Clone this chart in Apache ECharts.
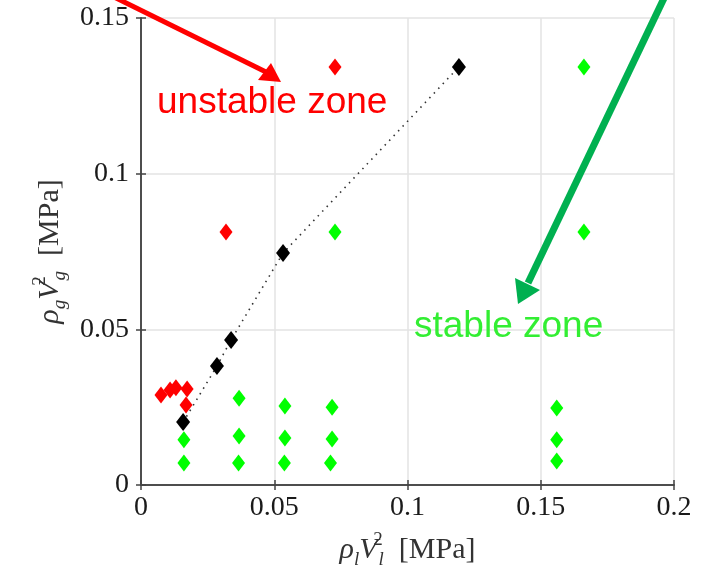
<!DOCTYPE html>
<html><head><meta charset="utf-8">
<script src="https://cdn.jsdelivr.net/npm/echarts@6/dist/echarts.min.js"></script>
<style>html,body{margin:0;padding:0;background:#fff}#c{width:701px;height:572px}</style>
</head><body><div id="c"></div>
<script>
// Data (x = rho_l V_l^2 [MPa], y = rho_g V_g^2 [MPa])
const unstablePts = [[0.0075,0.0289],[0.0109,0.0305],[0.0131,0.0312],[0.0173,0.0308],[0.0169,0.0257],[0.0319,0.0813],[0.0728,0.1343]];
const boundaryPts = [[0.0158,0.0202],[0.0285,0.0382],[0.0338,0.0466],[0.0533,0.0745],[0.1193,0.1343]];
const stablePts = [
  [0.0161,0.0145],[0.0161,0.0071],
  [0.0368,0.0279],[0.0368,0.0157],[0.0366,0.0071],
  [0.0540,0.0254],[0.0540,0.0151],[0.0538,0.0071],
  [0.0717,0.0250],[0.0717,0.0148],[0.0711,0.0071],
  [0.0728,0.0813],
  [0.1560,0.0247],[0.1560,0.0145],[0.1560,0.0077],
  [0.1662,0.1343],[0.1662,0.0813]
];
const xTicks = [0, 0.05, 0.1, 0.15, 0.2];
const yTicks = [0, 0.05, 0.1, 0.15];

const serif = '"Liberation Serif", "DejaVu Serif", serif';
const chart = echarts.init(document.getElementById('c'));
const lab = v => String(v);
const rich = {
  it: {fontFamily: serif, fontStyle: 'italic', fontSize: 30, color: '#333', verticalAlign: 'middle'},
  n: {fontFamily: serif, fontSize: 30, color: '#333', verticalAlign: 'middle'},
  sup: {fontFamily: serif, fontSize: 19, color: '#333', verticalAlign: 'top', width: 1},
  sub: {fontFamily: serif, fontStyle: 'italic', fontSize: 19, color: '#333', verticalAlign: 'bottom'}
};
const baseAxis = {
  axisLine: {show: true, lineStyle: {color: '#444', width: 1.5}},
  axisTick: {show: true, inside: true, length: 5, lineStyle: {color: '#444', width: 1.5}},
};
chart.setOption({
  animation: false,
  grid: {left: 141, right: 27, top: 18, bottom: 87, containLabel: false, outerBoundsMode: 'none'},
  xAxis: [{
    type: 'value', min: 0, max: 0.2, interval: 0.05,
    ...baseAxis,
    axisLabel: {fontFamily: serif, fontSize: 28, color: '#1a1a1a', margin: 9, formatter: lab},
    splitLine: {show: true, lineStyle: {color: '#e3e3e3', width: 1.5}},
    name: '{it|ρ}{sub|l}{it|V}{sup|2}{sub|l}{n|  [MPa]}',
    nameLocation: 'middle', nameGap: 46,
    nameTextStyle: {rich: rich, lineHeight: 38}
  },{
    type: 'value', min: 0, max: 0.2, interval: 0.05, position: 'top',
    ...baseAxis, axisLabel: {show: false}, splitLine: {show: false}
  }],
  yAxis: [{
    type: 'value', min: 0, max: 0.15, interval: 0.05,
    ...baseAxis,
    axisLabel: {fontFamily: serif, fontSize: 28, color: '#1a1a1a', margin: 12, formatter: lab},
    splitLine: {show: true, lineStyle: {color: '#e3e3e3', width: 1.5}},
    name: '{it|ρ}{sub|g}{it|V}{sup|2}{sub|g}{n|  [MPa]}',
    nameLocation: 'middle', nameGap: 72, nameRotate: 90,
    nameTextStyle: {rich: rich, lineHeight: 38}
  },{
    type: 'value', min: 0, max: 0.15, interval: 0.05, position: 'right',
    ...baseAxis, axisLabel: {show: false}, splitLine: {show: false}
  }],
  series: [
    {type: 'line', data: boundaryPts, symbol: 'none', z: 2,
     lineStyle: {color: '#333', width: 1.6, type: [1.5, 5]}},
    {type: 'scatter', data: stablePts, symbol: 'diamond', symbolSize: [13, 17], z: 3,
     itemStyle: {color: '#00ff00', opacity: 1}},
    {type: 'scatter', data: unstablePts, symbol: 'diamond', symbolSize: [13, 17], z: 3,
     itemStyle: {color: '#ff0000', opacity: 1}},
    {type: 'scatter', data: boundaryPts, symbol: 'diamond', symbolSize: [14, 18], z: 4,
     itemStyle: {color: '#000000', opacity: 1}}
  ],
  graphic: [
    {type: 'text', left: 157, top: 84, z: 10,
     style: {text: 'unstable zone', fill: '#ff0000', font: '37px "Liberation Sans", Arial, sans-serif'}},
    {type: 'text', left: 414, top: 308, z: 10,
     style: {text: 'stable zone', fill: '#33ee33', font: '37px "Liberation Sans", Arial, sans-serif'}},
    {type: 'polyline', z: 10, shape: {points: [[112, -4], [266, 72]]},
     style: {stroke: '#ff0000', lineWidth: 5}},
    {type: 'polygon', z: 10, shape: {points: [[281, 82], [258, 80], [271, 63]]},
     style: {fill: '#ff0000'}},
    {type: 'polyline', z: 10, shape: {points: [[666, -6], [528, 283]]},
     style: {stroke: '#00b050', lineWidth: 7}},
    {type: 'polygon', z: 10, shape: {points: [[518, 304], [515, 278], [540, 290]]},
     style: {fill: '#00b050'}}
  ]
});
</script></body></html>
